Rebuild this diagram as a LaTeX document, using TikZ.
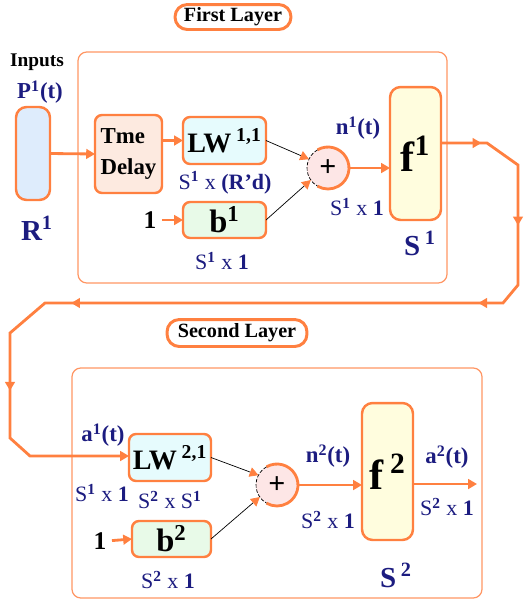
\documentclass[tikz,border=0pt]{standalone}
\usepackage{fontspec}
\setmainfont{Liberation Serif}
\usetikzlibrary{arrows.meta,decorations.markings,calc}
\definecolor{ora}{RGB}{255,128,64}
\definecolor{oraline}{RGB}{255,150,100}
\definecolor{navy}{RGB}{28,28,128}
\definecolor{barfill}{RGB}{222,236,252}
\definecolor{tdfill}{RGB}{253,234,224}
\definecolor{lwfill}{RGB}{230,251,253}
\definecolor{bfill}{RGB}{232,250,232}
\definecolor{sumfill}{RGB}{253,230,230}
\definecolor{ffill}{RGB}{255,253,222}
\begin{document}
\begin{tikzpicture}[x=0.02cm,y=-0.02cm,
  headtip/.style={-{Triangle[length=5pt,width=5.5pt]}},
  wire/.style={draw=ora, line width=1.6pt, headtip},
  blk/.style={draw=ora, line width=1.4pt, rounded corners=4pt, inner sep=0pt, outer sep=0pt},
  layerframe/.style={draw=oraline, line width=0.7pt, rounded corners=5pt},
  layertitle/.style={draw=ora, line width=1.7pt, rounded corners=7pt, fill=white, inner sep=0pt,
    font=\fontsize{11.5}{13}\selectfont\bfseries},
  feed/.style={draw=black, line width=0.4pt, -{Triangle[length=5pt,width=5.5pt,color=ora]}},
  dimlab/.style={text=navy, inner sep=0pt, font=\fontsize{12.5}{13}\selectfont},
  siglab/.style={text=navy, inner sep=0pt, font=\fontsize{13}{14}\selectfont\bfseries},
  sizelab/.style={text=navy, inner sep=0pt, font=\fontsize{16.5}{17}\selectfont\bfseries},
  unitin/.style={inner sep=0pt, font=\fontsize{14.5}{15}\selectfont\bfseries},
  sumnode/.style={circle, fill=sumfill, minimum size=0.84cm, inner sep=0pt, outer sep=0pt,
    font=\fontsize{17}{17}\selectfont\bfseries},
  lwtext/.style={font=\fontsize{16}{16}\selectfont\bfseries},
  btext/.style={font=\fontsize{18.5}{18.5}\selectfont\bfseries},
  ftext/.style={font=\fontsize{24}{24}\selectfont\bfseries},
]
\useasboundingbox (0,0) rectangle (525,600);

% layer frames and titles
\draw[layerframe] (78,52) rectangle (447,283);
\draw[layerframe] (72,368) rectangle (482,598);
\node[layertitle, minimum width=2.32cm, minimum height=0.5cm] (t1) at (233,17) {First Layer};
\node[layertitle, minimum width=2.8cm, minimum height=0.54cm] (t2) at (237,333) {Second Layer};

% ---------- first layer ----------
\node[inner sep=0pt, font=\fontsize{11}{12}\selectfont\bfseries] (inputs) at (37,62) {Inputs};
\node[siglab] (p1) at (40,92) {P\textsuperscript{1}(t)};
\node[blk, fill=barfill, minimum width=0.68cm, minimum height=1.86cm, rounded corners=6pt] (bar) at (33,153.5) {};
\node[sizelab] (r1) at (37,228) {R\textsuperscript{1}};

\node[blk, fill=tdfill, minimum width=1.34cm, minimum height=1.56cm, align=left,
  font=\fontsize{13}{18}\selectfont\bfseries] (td) at (128.5,154) {Tme\\Delay};
\node[blk, fill=lwfill, minimum width=1.66cm, minimum height=0.94cm, lwtext] (lw1) at (224.5,140.5) {LW\,\textsuperscript{1,1}};
\node[dimlab] (d1) at (225,183) {S\textsuperscript{\textbf{1}} x \textbf{(R'd)}};
\node[blk, fill=bfill, minimum width=1.66cm, minimum height=0.72cm, btext] (b1) at (224.5,220) {b\textsuperscript{1}};
\node[unitin] (one1) at (150,220) {1};
\node[dimlab] (d2) at (222,261) {S\textsuperscript{\textbf{1}} x \textbf{1}};

\node[sumnode] (s1) at (328,168) {+};
\draw[ora, line width=1.6pt] (s1.120) arc[start angle=120, end angle=-120, radius=0.42cm];
\draw[black, line width=0.4pt, dash pattern=on 2pt off 1pt] (s1.120) arc[start angle=120, end angle=240, radius=0.42cm];
\node[siglab] (n1) at (358,128) {n\textsuperscript{1}(t)};
\node[dimlab] (d3) at (357,207) {S\textsuperscript{\textbf{1}} x \textbf{1}};

\node[blk, fill=ffill, minimum width=1.02cm, minimum height=2.66cm, rounded corners=6pt, ftext] (f1) at (415.5,153.5) {f\textsuperscript{1}};
\node[sizelab] (sz1) at (420,243) {S\,\textsuperscript{1}};

\draw[wire] (bar.east) -- (td.west);
\draw[wire] (td.east |- lw1.west) -- (lw1.west);
\draw[wire, shorten <=3pt] (one1.east) -- (b1.west);
\draw[feed] (lw1.east) -- (s1.155);
\draw[feed] (b1.east) -- (s1.215);
\draw[wire] (s1.east) -- (s1.east -| f1.west);

% ---------- route from layer one down to layer two ----------
\coordinate (k1) at (487,143);
\coordinate (k2) at (518,165);
\coordinate (k3) at (518,285);
\coordinate (k4) at (503,303);
\coordinate (k5) at (45,303);
\coordinate (k6) at (10,333);
\coordinate (k7) at (10,438);
\coordinate (k8) at (30,456);

% ---------- second layer ----------
\node[siglab] (a1) at (103,435) {a\textsuperscript{1}(t)};
\node[dimlab] (d4) at (102,493) {S\textsuperscript{\textbf{1}} x \textbf{1}};
\node[blk, fill=lwfill, minimum width=1.64cm, minimum height=0.94cm, lwtext] (lw2) at (170,457.5) {LW\,\textsuperscript{2,1}};
\node[dimlab] (d5) at (170,500) {S\textsuperscript{\textbf{2}} x S\textsuperscript{\textbf{1}}};
\node[blk, fill=bfill, minimum width=1.58cm, minimum height=0.72cm, btext] (b2) at (171.5,539) {b\textsuperscript{2}};
\node[unitin] (one2) at (100,541) {1};
\node[dimlab] (d6) at (168,580) {S\textsuperscript{\textbf{2}} x \textbf{1}};

\node[sumnode] (s2) at (277,485) {+};
\draw[ora, line width=1.6pt] (s2.120) arc[start angle=120, end angle=-120, radius=0.42cm];
\draw[black, line width=0.4pt, dash pattern=on 2pt off 1pt] (s2.120) arc[start angle=120, end angle=240, radius=0.42cm];
\node[siglab] (n2) at (328,456) {n\textsuperscript{2}(t)};
\node[dimlab] (d7) at (328,520) {S\textsuperscript{\textbf{2}} x \textbf{1}};

\node[blk, fill=ffill, minimum width=1.02cm, minimum height=2.74cm, rounded corners=6pt, ftext] (f2) at (387.5,471.5) {f\,\textsuperscript{2}};
\node[sizelab] (sz2) at (396,575) {S\,\textsuperscript{2}};
\node[siglab] (a2) at (447,457) {a\textsuperscript{2}(t)};
\node[dimlab] (d8) at (447,507) {S\textsuperscript{\textbf{2}} x \textbf{1}};
\coordinate (out2) at (477,484);

\draw[wire, postaction={decorate}, decoration={markings,
    mark=at position 0.042 with {\arrow{Triangle[length=5pt,width=5.5pt]}},
    mark=at position 0.150 with {\arrow{Triangle[length=5pt,width=5.5pt]}},
    mark=at position 0.262 with {\arrow{Triangle[length=5pt,width=5.5pt]}},
    mark=at position 0.685 with {\arrow{Triangle[length=5pt,width=5.5pt]}},
    mark=at position 0.820 with {\arrow{Triangle[length=5pt,width=5.5pt]}}}]
  (f1.east |- k1) -- (k1) -- (k2) -- (k3) -- (k4) -- (k5) -- (k6) -- (k7) -- (k8) -- (k8 -| lw2.west);

\draw[wire, shorten <=3pt] (one2.east) -- (b2.west);
\draw[feed] (lw2.east) -- (s2.152);
\draw[feed] (b2.east) -- (s2.215);
\draw[wire] (s2.east) -- (s2.east -| f2.west);
\draw[wire] (f2.east |- out2) -- (out2);
\end{tikzpicture}
\end{document}
